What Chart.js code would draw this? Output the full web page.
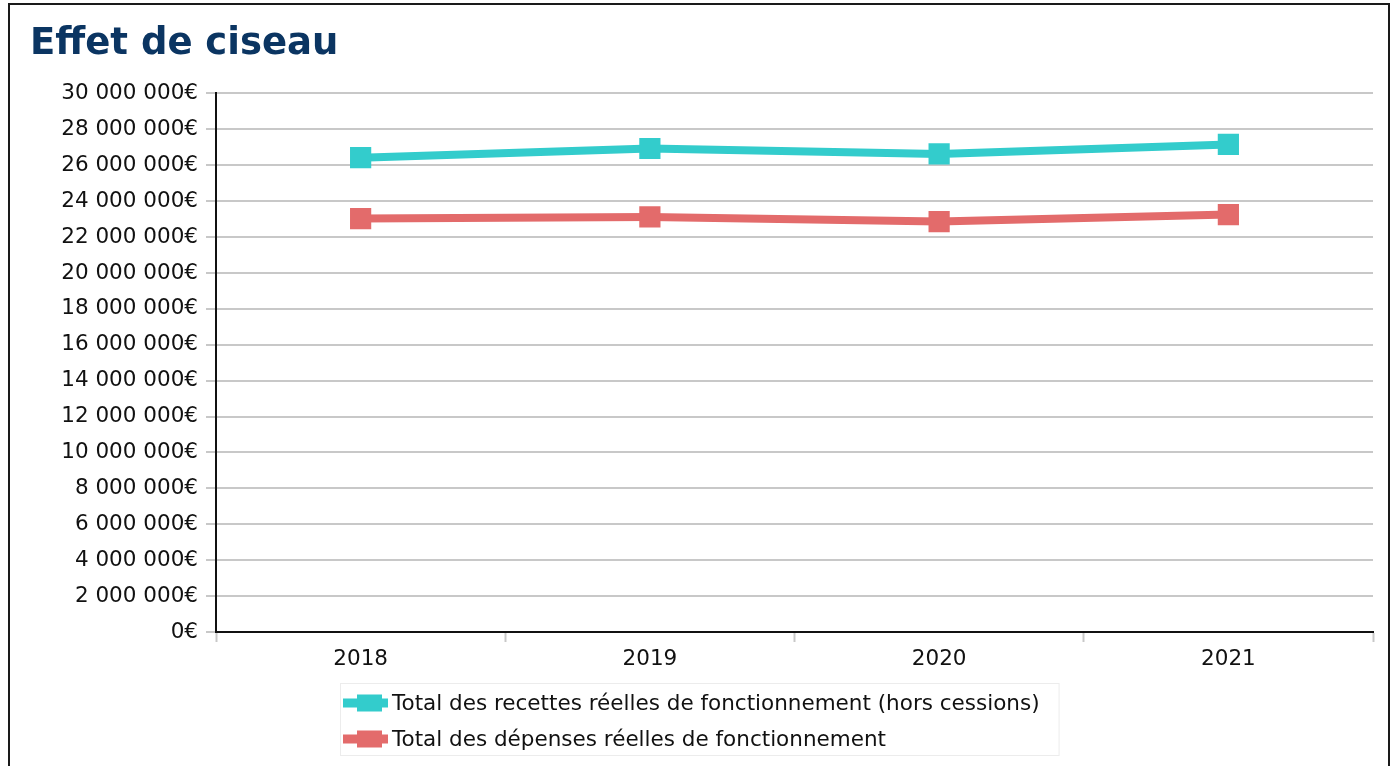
<!DOCTYPE html>
<html>
<head>
<meta charset="utf-8">
<script src="https://cdn.jsdelivr.net/npm/chart.js@4/dist/chart.umd.min.js"></script>
<style>
  html, body { margin: 0; padding: 0; background: #fff; overflow: hidden; }
  #frame {
    position: absolute; left: 8px; top: 3px;
    width: 1382px; height: 800px;
    border: 2px solid #1a1a1a; box-sizing: border-box;
  }
  #chart { display: block; }
</style>
</head>
<body>
<div id="frame">
  <canvas id="chart" width="1378" height="761"></canvas>
</div>
<script>
// values
const years = ['2018', '2019', '2020', '2021'];
const recettes = [26420000, 26930000, 26630000, 27160000];
const depenses = [23030000, 23120000, 22860000, 23250000];
const seriesNames = [
  'Total des recettes réelles de fonctionnement (hors cessions)',
  'Total des dépenses réelles de fonctionnement'
];

const FONT = '"DejaVu Sans", Verdana, sans-serif';
const CYAN = '#33cccc';
const RED = '#e36b6b';

const fmtEuro = v => String(v).replace(/\B(?=(\d{3})+(?!\d))/g, ' ') + '€';

// legend drawn in a framed box, one item per row
const legendBox = {
  id: 'legendBox',
  afterDraw(chart) {
    const ctx = chart.ctx;
    const sets = chart.data.datasets;
    ctx.save();
    ctx.font = '21.5px ' + FONT;
    const textW = Math.max(...sets.map(d => ctx.measureText(d.label).width));
    const w = 52 + textW + 19;
    const h = 72;
    const x = Math.round((chart.width - w) / 2);
    const y = chart.chartArea.bottom + 51;
    ctx.strokeStyle = '#ececec';
    ctx.lineWidth = 1;
    ctx.strokeRect(x + 0.5, y + 0.5, w, h);
    sets.forEach((d, i) => {
      const cy = y + 20 + i * 36;
      ctx.strokeStyle = d.borderColor;
      ctx.lineWidth = 9;
      ctx.beginPath();
      ctx.moveTo(x + 3, cy);
      ctx.lineTo(x + 48, cy);
      ctx.stroke();
      ctx.fillStyle = d.borderColor;
      ctx.fillRect(x + 17, cy - 8.5, 25, 17);
      ctx.fillStyle = '#111';
      ctx.textBaseline = 'middle';
      ctx.textAlign = 'left';
      ctx.fillText(d.label, x + 52, cy + 1);
    });
    ctx.restore();
  }
};

const ctx = document.getElementById('chart').getContext('2d');
new Chart(ctx, {
  type: 'line',
  data: {
    labels: years,
    datasets: [
      {
        label: seriesNames[0],
        data: recettes,
        borderColor: CYAN,
        backgroundColor: CYAN,
        borderWidth: 8,
        pointStyle: 'rect',
        pointRadius: 15,
        pointBorderWidth: 0,
        tension: 0
      },
      {
        label: seriesNames[1],
        data: depenses,
        borderColor: RED,
        backgroundColor: RED,
        borderWidth: 8,
        pointStyle: 'rect',
        pointRadius: 15,
        pointBorderWidth: 0,
        tension: 0
      }
    ]
  },
  options: {
    responsive: false,
    animation: false,
    layout: {
      padding: { left: 20, right: 11, top: 0, bottom: 94 }
    },
    plugins: {
      legend: { display: false },
      tooltip: { enabled: false },
      title: {
        display: true,
        text: 'Effet de ciseau',
        align: 'start',
        color: '#0b3562',
        font: { family: FONT, size: 37, weight: 'bold' },
        padding: { top: 17, bottom: 27 }
      }
    },
    scales: {
      x: {
        offset: true,
        grid: {
          offset: true,
          drawOnChartArea: false,
          drawTicks: true,
          tickLength: 10,
          tickColor: '#c8c8c8',
          tickWidth: 2
        },
        border: { color: '#111', width: 2 },
        ticks: {
          color: '#111',
          font: { family: FONT, size: 21.5 },
          padding: 5
        },
        afterFit: s => { s.height = 40; }
      },
      y: {
        min: 0,
        max: 30000000,
        grid: {
          color: '#c8c8c8',
          lineWidth: 2,
          tickLength: 10,
          tickColor: '#c8c8c8'
        },
        border: { color: '#111', width: 2 },
        ticks: {
          stepSize: 2000000,
          color: '#111',
          font: { family: FONT, size: 21.5 },
          padding: 8,
          callback: v => fmtEuro(v)
        },
        afterFit: s => { s.width = 186; }
      }
    }
  },
  plugins: [legendBox]
});
</script>
</body>
</html>
